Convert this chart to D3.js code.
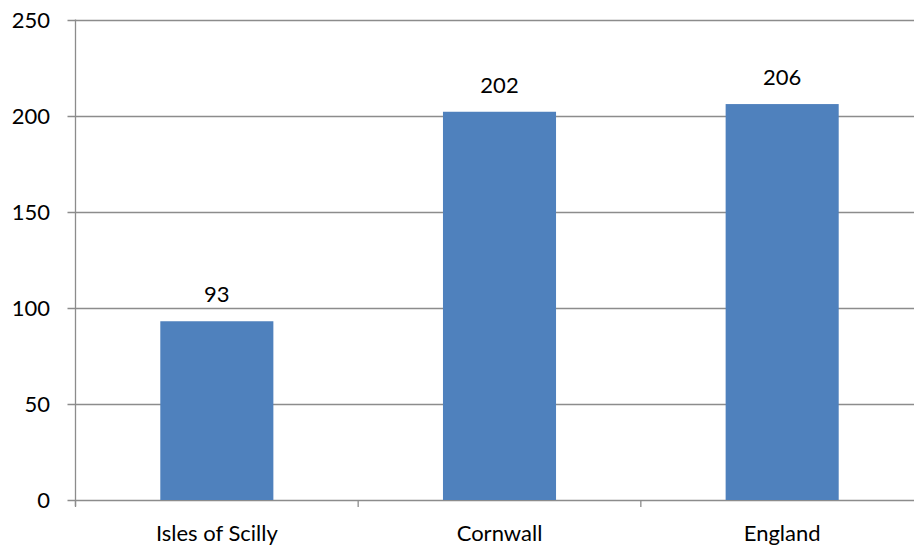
<!DOCTYPE html>
<html><head><meta charset="utf-8">
<script src="https://cdn.jsdelivr.net/npm/d3@7"></script>
<style>html,body{margin:0;padding:0;background:#fff;overflow:hidden}</style>
</head><body>
<svg id="c" width="914" height="546"></svg>
<script>
const categories = ["Isles of Scilly", "Cornwall", "England"];
const values = [93, 202, 206];
const yTicks = [0, 50, 100, 150, 200, 250];

(function () {
const W = 914, H = 546;
const pLeft = 75.5, pRight = 923.5, pTop = 19.5, pBottom = 500;
const font = "Lato, 'Open Sans', sans-serif";
const fs = 22;
const grid = "#8c8c8c";

const svg = d3.select("#c");
const xOuter = d3.scaleBand().domain(categories).range([pLeft, pRight]);
const y = d3.scaleLinear().domain([0, 250]).range([pBottom, pTop]);

// gridlines
svg.append("g").selectAll("line").data(yTicks).join("line")
  .attr("x1", pLeft - 8).attr("x2", W)
  .attr("y1", d => Math.round(y(d)) + 0.5).attr("y2", d => Math.round(y(d)) + 0.5)
  .attr("stroke", grid).attr("stroke-width", 1.3);

// y axis line
svg.append("line").attr("x1", pLeft).attr("x2", pLeft).attr("y1", pTop).attr("y2", pBottom + 6)
  .attr("stroke", grid).attr("stroke-width", 1.3);

// y labels
svg.append("g").selectAll("text").data(yTicks).join("text")
  .attr("x", 50).attr("y", d => y(d) + 8)
  .attr("text-anchor", "end").attr("font-family", font).attr("font-size", fs).attr("fill", "#000")
  .text(d => d);

// x ticks
const xt = categories.map(c => xOuter(c)).concat([xOuter(categories[2]) + xOuter.bandwidth()]);
svg.append("g").selectAll("line").data(xt).join("line")
  .attr("x1", d => d).attr("x2", d => d).attr("y1", pBottom).attr("y2", pBottom + 7)
  .attr("stroke", grid).attr("stroke-width", 1.3);

// bars
svg.append("g").selectAll("rect").data(values).join("rect")
  .attr("x", (d, i) => xOuter(categories[i]) + xOuter.bandwidth() / 2 - xOuter.bandwidth() * 0.2)
  .attr("width", xOuter.bandwidth() * 0.4)
  .attr("y", d => y(d)).attr("height", d => pBottom - y(d))
  .attr("fill", "#4F81BD");

// value labels
svg.append("g").selectAll("text").data(values).join("text")
  .attr("x", (d, i) => xOuter(categories[i]) + xOuter.bandwidth() / 2)
  .attr("y", d => y(d) - 19)
  .attr("text-anchor", "middle").attr("font-family", font).attr("font-size", fs).attr("fill", "#000")
  .text(d => d);

// category labels
svg.append("g").selectAll("text").data(categories).join("text")
  .attr("x", d => xOuter(d) + xOuter.bandwidth() / 2)
  .attr("y", 541)
  .attr("text-anchor", "middle").attr("font-family", font).attr("font-size", fs).attr("fill", "#000")
  .text(d => d);
})();
</script>
</body></html>
